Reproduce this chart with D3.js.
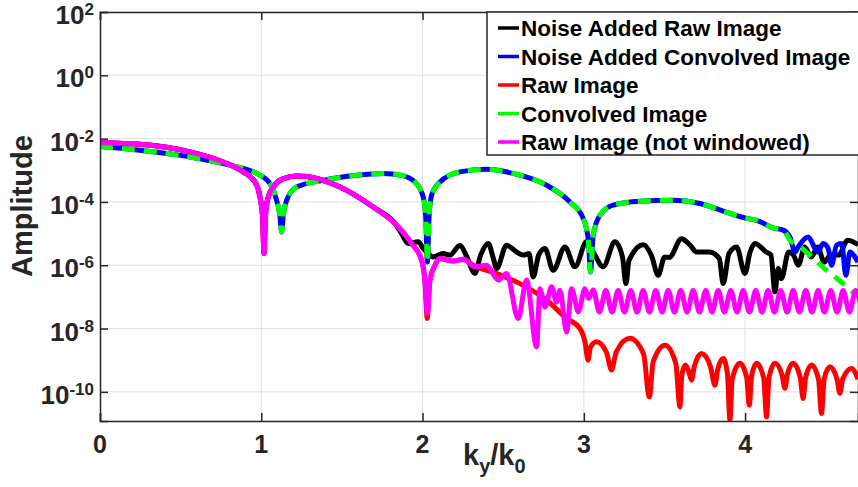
<!DOCTYPE html>
<html>
<head>
<meta charset="utf-8">
<script src="https://cdn.jsdelivr.net/npm/d3@7"></script>
<style>
  body { margin: 0; background: #fff; }
  svg { display: block; font-family: "Liberation Sans", Arial, sans-serif; font-weight: bold; }
</style>
</head>
<body>
<div id="chart"></div>
<script>
// x = k_y/k_0, y = log10(amplitude)
const xTicks = [0, 1, 2, 3, 4];
const yExponents = [2, 0, -2, -4, -6, -8, -10];

const legendLabels = [
  "Noise Added Raw Image",
  "Noise Added Convolved Image",
  "Raw Image",
  "Convolved Image",
  "Raw Image (not windowed)"
];
const legendColors = ["#000000", "#0000ff", "#ff0000", "#00ff00", "#ff00ff"];

// shared part of raw / not-windowed curve (before they split)
const rawHead = [
  [0, -2.13], [0.248, -2.18], [0.558, -2.42], [0.764, -2.74], [0.888, -3.05],
  [0.961, -3.37], [0.992, -3.84], [1.008, -4.45], [1.017, -5.63], [1.026, -4.45],
  [1.040, -3.9], [1.074, -3.53], [1.13, -3.28], [1.22, -3.18], [1.281, -3.2],
  [1.488, -3.53], [1.694, -4.16], [1.829, -4.68]
];

const rawTail = [
  [1.932, -5.31], [1.994, -5.84], [2.015, -6.5], [2.029, -7.68], [2.045, -6.5],
  [2.077, -6.00], [2.108, -5.79], [2.19, -5.87], [2.253, -5.81], [2.314, -6.00],
  [2.459, -6.26], [2.604, -6.58], [2.769, -7.10], [2.893, -7.68], [2.976, -8.00],
  [3.007, -8.42], [3.027, -9.0], [3.040, -8.6], [3.079, -8.42], [3.14, -8.75],
  [3.172, -9.31], [3.20, -8.75], [3.286, -8.31], [3.37, -8.8], [3.406, -10.16],
  [3.43, -9.05], [3.503, -8.53], [3.57, -9.1], [3.596, -10.47], [3.607, -9.5],
  [3.63, -9.15], [3.65, -9.35], [3.668, -9.63], [3.685, -9.2], [3.730, -8.79],
  [3.785, -9.2], [3.813, -9.79], [3.83, -9.3], [3.864, -8.95], [3.89, -9.4],
  [3.906, -10.89], [3.92, -9.6], [3.968, -9.10], [4.01, -9.55], [4.026, -10.42],
  [4.04, -9.5], [4.071, -9.10], [4.115, -9.55], [4.133, -10.79], [4.148, -9.55],
  [4.185, -9.10], [4.228, -9.45], [4.247, -9.89], [4.262, -9.45], [4.298, -9.10],
  [4.342, -9.55], [4.360, -10.21], [4.375, -9.55], [4.412, -9.15], [4.455, -9.6],
  [4.474, -10.68], [4.49, -9.6], [4.526, -9.21], [4.57, -9.6], [4.588, -10.05],
  [4.605, -9.6], [4.660, -9.26], [4.70, -9.6]
];

const notWindowedTail = [
  [1.932, -5.31], [1.994, -5.84], [2.015, -6.5], [2.030, -7.52], [2.045, -6.5],
  [2.077, -6.00], [2.108, -5.79], [2.19, -5.87], [2.253, -5.81], [2.325, -6.05],
  [2.397, -6.00], [2.47, -6.47], [2.521, -6.26], [2.593, -7.68], [2.645, -6.47],
  [2.707, -8.58], [2.728, -6.74], [2.759, -7.32], [2.80, -6.68], [2.831, -7.16],
  [2.852, -6.79], [2.893, -8.11], [2.924, -6.74], [2.966, -7.47], [3.007, -6.74],
  [3.03, -7.05], [3.058, -6.78], [3.097, -7.48], [3.136, -6.80], [3.175, -7.48],
  [3.213, -6.80], [3.252, -7.48], [3.291, -6.80], [3.33, -7.48], [3.368, -6.80],
  [3.407, -7.48], [3.446, -6.80], [3.485, -7.48], [3.523, -6.80], [3.562, -7.48],
  [3.601, -6.80], [3.64, -7.48], [3.678, -6.80], [3.717, -7.48], [3.756, -6.80],
  [3.795, -7.48], [3.833, -6.80], [3.872, -7.48], [3.911, -6.80], [3.95, -7.48],
  [3.988, -6.80], [4.027, -7.48], [4.066, -6.80], [4.105, -7.48], [4.143, -6.80],
  [4.182, -7.48], [4.221, -6.80], [4.26, -7.48], [4.298, -6.80], [4.337, -7.48],
  [4.376, -6.80], [4.415, -7.48], [4.453, -6.80], [4.492, -7.48], [4.531, -6.80],
  [4.57, -7.48], [4.608, -6.80], [4.647, -7.48], [4.686, -6.80], [4.72, -7.3]
];

const noisyRawTail = [
  [1.87, -5.0], [1.911, -5.31], [1.973, -5.26], [2.004, -5.47], [2.025, -5.58],
  [2.066, -5.74], [2.128, -5.63], [2.17, -5.68], [2.232, -5.37], [2.27, -5.68],
  [2.325, -6.26], [2.36, -5.68], [2.407, -5.31], [2.44, -5.8], [2.459, -6.10],
  [2.521, -5.37], [2.583, -5.58], [2.624, -5.68], [2.66, -5.63], [2.686, -6.37],
  [2.72, -5.68], [2.759, -5.47], [2.810, -6.16], [2.883, -5.42], [2.945, -6.05],
  [3.017, -5.26], [3.06, -5.6], [3.12, -6.05], [3.193, -5.26], [3.24, -5.75],
  [3.261, -6.58], [3.28, -5.85], [3.369, -5.35], [3.42, -5.7], [3.461, -6.32],
  [3.50, -5.75], [3.53, -5.75], [3.606, -5.16], [3.66, -5.37], [3.699, -5.58],
  [3.78, -5.58], [3.84, -5.79], [3.864, -6.58], [3.90, -5.63], [3.947, -5.42],
  [3.999, -6.26], [4.03, -5.6], [4.061, -5.31], [4.13, -5.58], [4.16, -5.68],
  [4.185, -6.84], [4.205, -6.1], [4.225, -6.42], [4.27, -5.58], [4.30, -5.68],
  [4.33, -6.00], [4.37, -5.42], [4.41, -5.74], [4.45, -5.42], [4.49, -5.90],
  [4.53, -5.68], [4.58, -5.68], [4.636, -5.21], [4.70, -5.35]
];

const convolved = [
  [0, -2.25], [0.248, -2.37], [0.558, -2.58], [0.806, -2.84], [0.971, -3.10],
  [1.054, -3.42], [1.095, -3.95], [1.115, -4.4], [1.126, -4.95], [1.137, -4.4],
  [1.157, -3.95], [1.219, -3.53], [1.384, -3.32], [1.591, -3.16], [1.756, -3.10],
  [1.870, -3.16], [1.953, -3.37], [2.004, -3.84], [2.020, -4.5], [2.030, -5.90],
  [2.040, -4.5], [2.056, -3.79], [2.108, -3.37], [2.232, -3.05], [2.397, -2.97],
  [2.562, -3.10], [2.769, -3.47], [2.914, -4.00], [2.996, -4.52], [3.027, -5.16],
  [3.042, -6.21], [3.058, -5.05], [3.100, -4.42], [3.182, -4.10], [3.348, -3.98],
  [3.554, -3.95], [3.720, -4.05], [3.864, -4.29], [4.009, -4.52], [4.071, -4.58],
  [4.174, -4.82], [4.236, -4.89], [4.278, -5.21], [4.340, -5.42], [4.505, -6.16],
  [4.608, -6.58], [4.70, -6.98]
];

const noisyConvolvedTail = [
  [4.278, -5.11], [4.309, -5.58], [4.329, -5.42], [4.391, -5.11], [4.433, -5.47],
  [4.450, -5.58], [4.484, -5.31], [4.515, -5.47], [4.536, -6.00], [4.567, -5.37],
  [4.598, -5.31], [4.625, -6.32], [4.650, -5.58], [4.681, -5.74], [4.70, -5.90]
];

const rawImage = rawHead.concat(rawTail);
const notWindowed = rawHead.concat(notWindowedTail);
const noisyRaw = rawHead.concat(noisyRawTail);
const noisyConvolved = convolved.filter(d => d[0] <= 4.24).concat(noisyConvolvedTail);

const W = 858, H = 487;
const margins = { top: 12, bottom: 66, left: 100, right: 0 };
const plotRight = W - margins.right;
const plotBottom = H - margins.bottom;

const x = d3.scaleLinear().domain([0, 4.7]).range([margins.left, plotRight]);
const y = d3.scaleLog().domain([1.2e-11, 1e2]).range([plotBottom, margins.top]);

const svg = d3.select("#chart").append("svg").attr("width", W).attr("height", H);

svg.append("defs").append("clipPath").attr("id", "clip")
  .append("rect")
  .attr("x", margins.left).attr("y", margins.top)
  .attr("width", plotRight - margins.left).attr("height", plotBottom - margins.top);

// grid
const grid = svg.append("g").attr("stroke", "#dfdfdf").attr("stroke-width", 1);
grid.selectAll("line.gx").data(xTicks.slice(1)).enter().append("line")
  .attr("x1", d => x(d)).attr("x2", d => x(d))
  .attr("y1", margins.top).attr("y2", plotBottom);
grid.selectAll("line.gy").data(yExponents).enter().append("line")
  .attr("x1", margins.left).attr("x2", plotRight)
  .attr("y1", d => y(Math.pow(10, d))).attr("y2", d => y(Math.pow(10, d)));

// curves
const line = d3.line()
  .x(d => x(d[0]))
  .y(d => y(Math.pow(10, d[1])))
  .curve(d3.curveMonotoneX);

const plotG = svg.append("g").attr("clip-path", "url(#clip)")
  .attr("fill", "none").attr("stroke-linejoin", "round").attr("stroke-linecap", "butt");

const series = [
  { data: noisyRaw, color: legendColors[0], dash: null },
  { data: noisyConvolved, color: legendColors[1], dash: null },
  { data: rawImage, color: legendColors[2], dash: null },
  { data: convolved, color: legendColors[3], dash: "13,9" },
  { data: notWindowed, color: legendColors[4], dash: null }
];

plotG.selectAll("path").data(series).enter().append("path")
  .attr("d", d => line(d.data))
  .attr("stroke", d => d.color)
  .attr("stroke-width", 5)
  .attr("stroke-dasharray", d => d.dash);

// axes (ticks inward, box on)
const axisColor = "#262626";
svg.append("g").attr("transform", "translate(0," + plotBottom + ")")
  .call(d3.axisBottom(x).tickValues(xTicks).tickSize(-8).tickFormat(""));
svg.append("g").attr("transform", "translate(0," + margins.top + ")")
  .call(d3.axisTop(x).tickValues(xTicks).tickSize(-8).tickFormat(""));
svg.append("g").attr("transform", "translate(" + margins.left + ",0)")
  .call(d3.axisLeft(y).tickValues(yExponents.map(e => Math.pow(10, e))).tickSize(-8).tickFormat(""));
svg.append("g").attr("transform", "translate(" + plotRight + ",0)")
  .call(d3.axisRight(y).tickValues(yExponents.map(e => Math.pow(10, e))).tickSize(-8).tickFormat(""));
svg.selectAll(".domain, .tick line").attr("stroke", axisColor).attr("stroke-width", 1.5);

// x tick labels
svg.selectAll("text.xt").data(xTicks).enter().append("text")
  .attr("x", d => x(d)).attr("y", 453)
  .attr("text-anchor", "middle")
  .attr("font-size", 25).attr("fill", axisColor)
  .text(d => d);

// y tick labels: 10^e
const yt = svg.selectAll("text.yt").data(yExponents).enter().append("text")
  .attr("x", 94).attr("y", d => y(Math.pow(10, d)) + 12)
  .attr("text-anchor", "end")
  .attr("font-size", 26).attr("fill", axisColor);
yt.append("tspan").text("10");
yt.append("tspan").attr("font-size", 17).attr("dy", -9).text(d => d);

// axis labels
svg.append("text")
  .attr("transform", "translate(32,206) rotate(-90)")
  .attr("text-anchor", "middle").attr("font-size", 29).attr("fill", axisColor)
  .text("Amplitude");

const xl = svg.append("text").attr("x", 463).attr("y", 465)
  .attr("font-size", 29).attr("fill", axisColor);
xl.append("tspan").text("k");
xl.append("tspan").attr("font-size", 20).attr("dy", 8).text("y");
xl.append("tspan").attr("dy", -8).text("/k");
xl.append("tspan").attr("font-size", 20).attr("dy", 8).text("0");

// legend
const legend = svg.append("g");
legend.append("rect")
  .attr("x", 487).attr("y", margins.top)
  .attr("width", 400).attr("height", 143)
  .attr("fill", "#fff").attr("stroke", axisColor).attr("stroke-width", 1.5);

const rowY = (d, i) => 28 + i * 28.5;
legend.selectAll("line.lg").data(legendLabels).enter().append("line")
  .attr("x1", 498).attr("x2", 519)
  .attr("y1", rowY).attr("y2", rowY)
  .attr("stroke", (d, i) => legendColors[i]).attr("stroke-width", 3.5);
legend.selectAll("text.lg").data(legendLabels).enter().append("text")
  .attr("x", 521).attr("y", (d, i) => rowY(d, i) + 8)
  .attr("font-size", 22.5).attr("fill", "#000")
  .text(d => d);
</script>
</body>
</html>
